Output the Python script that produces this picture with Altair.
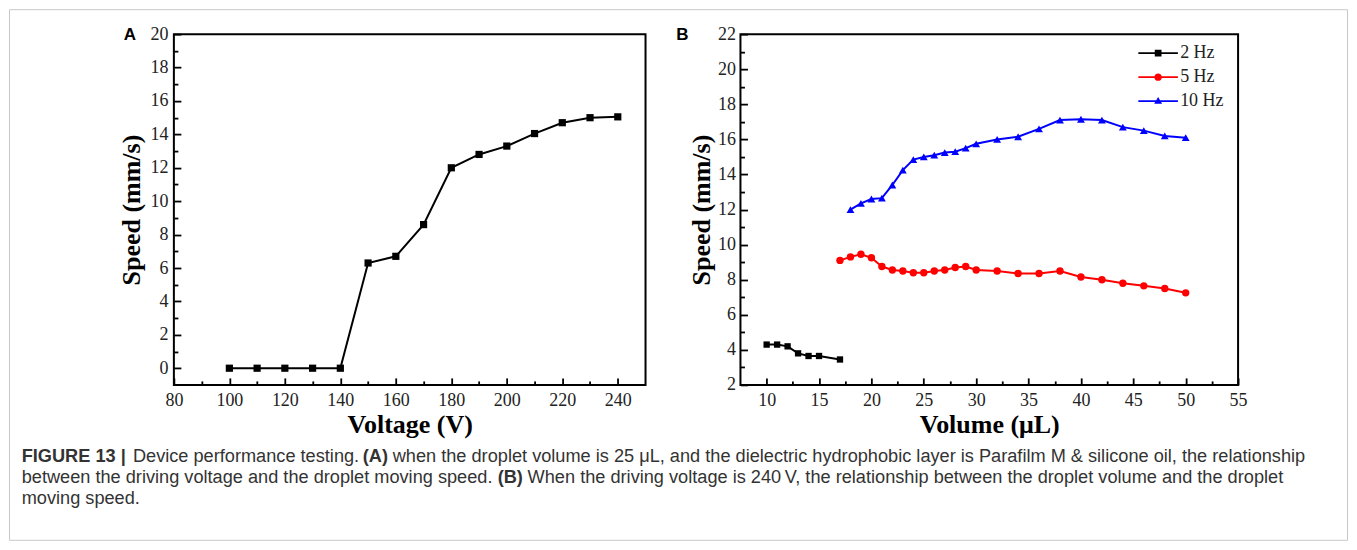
import altair as alt
import pandas as pd

# ---------------- data ----------------
voltage = [100, 110, 120, 130, 140, 150, 160, 170, 180, 190, 200, 210, 220, 230, 240]
speed_voltage = [0, 0, 0, 0, 0, 6.3, 6.7, 8.6, 12.0, 12.8, 13.3, 14.05, 14.7, 15.0, 15.05]

volume_2hz = [10, 11, 12, 13, 14, 15, 17]
speed_2hz = [4.3, 4.3, 4.2, 3.8, 3.65, 3.65, 3.45]

volume_5hz = [17, 18, 19, 20, 21, 22, 23, 24, 25, 26, 27, 28, 29, 30, 32, 34, 36, 38, 40, 42, 44, 46, 48, 50]
speed_5hz = [9.1, 9.3, 9.45, 9.25, 8.75, 8.55, 8.5, 8.4, 8.4, 8.5, 8.55, 8.7, 8.75, 8.55, 8.5, 8.35,
             8.35, 8.5, 8.15, 8.0, 7.8, 7.65, 7.5, 7.25]

volume_10hz = [18, 19, 20, 21, 22, 23, 24, 25, 26, 27, 28, 29, 30, 32, 34, 36, 38, 40, 42, 44, 46, 48, 50]
speed_10hz = [12.0, 12.35, 12.6, 12.65, 13.4, 14.25, 14.85, 15.0, 15.1, 15.25, 15.3, 15.5, 15.75, 16.0,
              16.15, 16.6, 17.1, 17.15, 17.1, 16.7, 16.5, 16.2, 16.1]

series_names = ["2 Hz", "5 Hz", "10 Hz"]
series_colors = ["#000000", "#ff0000", "#0000ff"]
series_shapes = ["square", "circle", "triangle-up"]

a_x_major = [80, 100, 120, 140, 160, 180, 200, 220, 240]
a_x_minor = [90, 110, 130, 150, 170, 190, 210, 230]
a_y_major = [0, 2, 4, 6, 8, 10, 12, 14, 16, 18, 20]
a_y_minor = [1, 3, 5, 7, 9, 11, 13, 15, 17, 19]
b_x_major = [10, 15, 20, 25, 30, 35, 40, 45, 50, 55]
b_x_minor = [12.5, 17.5, 22.5, 27.5, 32.5, 37.5, 42.5, 47.5, 52.5]
b_y_major = [2, 4, 6, 8, 10, 12, 14, 16, 18, 20, 22]
b_y_minor = [3, 5, 7, 9, 11, 13, 15, 17, 19, 21]

caption_l1_a = "FIGURE 13 |"
caption_l1_b = "Device performance testing."
caption_l1_c = "(A)"
caption_l1_d = "when the droplet volume is 25 \u03bcL, and the dielectric hydrophobic layer is Parafilm M & silicone oil, the relationship"
caption_l2_a = "between the driving voltage and the droplet moving speed."
caption_l2_b = "(B)"
caption_l2_c = "When the driving voltage is 240\u2009V, the relationship between the droplet volume and the droplet"
caption_l3 = "moving speed."

# ---------------- styles ----------------
SERIF = "Liberation Serif"
SANS = "Liberation Sans"
CAP_SIZE = 18.2
CAP_COLOR = "#333333"

legend_paths = [
    "M-1.65,-0.08H1.65V0.08H-1.65Z M-0.28,-0.28H0.28V0.28H-0.28Z",
    "M-1.65,-0.08H1.65V0.08H-1.65Z M-0.31,0A0.31,0.31,0,1,1,0.31,0A0.31,0.31,0,1,1,-0.31,0Z",
    "M-1.65,-0.08H1.65V0.08H-1.65Z M0,-0.34L0.33,0.22H-0.33Z",
]


def major_axis(orient, values, title, title_pad, label_pad):
    return alt.Axis(orient=orient, values=values, title=title, offset=-7, tickSize=7,
                    domain=False, grid=False, labelPadding=label_pad, titlePadding=title_pad,
                    labelFlush=False, labelOverlap=False)


def minor_axis(orient, values):
    return alt.Axis(orient=orient, values=values, title=None, labels=False, offset=-4,
                    tickSize=4, domain=False, grid=False)


empty = alt.Data(values=[{"k": 0}])


def text_at(txt, x, y, font, size, bold, color, align="left"):
    return alt.Chart(empty).mark_text(text=txt, font=font, fontSize=size,
                                      fontWeight="bold" if bold else "normal",
                                      align=align, baseline="middle", color=color).encode(
        x=alt.value(x), y=alt.value(y))


# ---------------- caption + outer border (drawn from panel A's origin) ----------------
L1, L2, L3 = 423, 444, 465
caption_layers = [
    alt.Chart(empty).mark_rect(filled=False, color="#c8c8c8", strokeWidth=1).encode(
        x=alt.value(-164.5), x2=alt.value(1174.5), y=alt.value(-24.5), y2=alt.value(506.5)),
    text_at(caption_l1_a, -152.3, L1, SANS, CAP_SIZE, True, CAP_COLOR),
    text_at(caption_l1_b, -41, L1, SANS, CAP_SIZE, False, CAP_COLOR),
    text_at(caption_l1_c, 189, L1, SANS, CAP_SIZE, True, CAP_COLOR),
    text_at(caption_l1_d, 219, L1, SANS, CAP_SIZE, False, CAP_COLOR),
    text_at(caption_l2_a, -152.3, L2, SANS, CAP_SIZE, False, CAP_COLOR),
    text_at(caption_l2_b, 324, L2, SANS, CAP_SIZE, True, CAP_COLOR),
    text_at(caption_l2_c, 354, L2, SANS, CAP_SIZE, False, CAP_COLOR),
    text_at(caption_l3, -152.3, L3, SANS, CAP_SIZE, False, CAP_COLOR),
]

# ---------------- panel A ----------------
df_a = pd.DataFrame({"Voltage": voltage, "Speed": speed_voltage})
scale_ax = alt.Scale(domain=[80, 250], nice=False, zero=False)
scale_ay = alt.Scale(domain=[-1, 20], nice=False, zero=False)
ax = alt.X("Voltage:Q", scale=scale_ax, axis=major_axis("bottom", a_x_major, "Voltage (V)", 2, 7))
ay = alt.Y("Speed:Q", scale=scale_ay, axis=major_axis("left", a_y_major, "Speed (mm/s)", 5, 6))

line_a = alt.Chart(df_a).mark_line(color="black", strokeWidth=2).encode(x=ax, y=ay)
pts_a = alt.Chart(df_a).mark_point(shape="square", filled=True, size=52, color="black",
                                   opacity=1).encode(x=ax, y=ay)
minor_a = alt.Chart(df_a).mark_point(opacity=0).encode(
    x=alt.X("Voltage:Q", scale=scale_ax, axis=minor_axis("bottom", a_x_minor)),
    y=alt.Y("Speed:Q", scale=scale_ay, axis=minor_axis("left", a_y_minor)))

chart_a = alt.layer(
    alt.layer(line_a, pts_a, text_at("A", -44, 1, SANS, 17, True, "black", "center"),
              *caption_layers),
    minor_a,
).resolve_axis(x="independent", y="independent").properties(width=472, height=351)

# ---------------- panel B ----------------
scale_bx = alt.Scale(domain=[7.5, 55], nice=False, zero=False)
scale_by = alt.Scale(domain=[2, 22], nice=False, zero=False)
bx = alt.X("Volume:Q", scale=scale_bx, axis=major_axis("bottom", b_x_major, "Volume (\u03bcL)", 2, 7))
by = alt.Y("Speed:Q", scale=scale_by, axis=major_axis("left", b_y_major, "Speed (mm/s)", 3, 5))

frames_b = [
    pd.DataFrame({"Volume": volume_2hz, "Speed": speed_2hz}),
    pd.DataFrame({"Volume": volume_5hz, "Speed": speed_5hz}),
    pd.DataFrame({"Volume": volume_10hz, "Speed": speed_10hz}),
]
sizes_b = [40, 55, 62]

layers_b = []
for df, col, shp, sz in zip(frames_b, series_colors, series_shapes, sizes_b):
    layers_b.append(alt.Chart(df).mark_line(color=col, strokeWidth=2).encode(x=bx, y=by))
    layers_b.append(alt.Chart(df).mark_point(shape=shp, filled=True, size=sz, color=col,
                                             opacity=1).encode(x=bx, y=by))

leg = alt.Legend(orient="none", legendX=406, legendY=7, title=None, symbolSize=576,
                 labelFont=SERIF, labelFontSize=18, labelColor="#222222", labelOffset=10,
                 rowPadding=3, padding=0, symbolStrokeWidth=0)
legend_layer = alt.Chart(frames_b[0]).mark_point(filled=True, opacity=1).encode(
    shape=alt.Shape("leg:N", scale=alt.Scale(domain=series_names, range=legend_paths), legend=leg),
    color=alt.Color("leg:N", scale=alt.Scale(domain=series_names, range=series_colors), legend=leg),
).transform_filter("false")

minor_b = alt.Chart(frames_b[2]).mark_point(opacity=0).encode(
    x=alt.X("Volume:Q", scale=scale_bx, axis=minor_axis("bottom", b_x_minor)),
    y=alt.Y("Speed:Q", scale=scale_by, axis=minor_axis("left", b_y_minor)))

chart_b = alt.layer(
    alt.layer(*layers_b, legend_layer, text_at("B", -58, 1, SANS, 17, True, "black", "center")),
    minor_b,
).resolve_axis(x="independent", y="independent").properties(width=498, height=351)

chart = alt.hconcat(chart_a, chart_b, spacing=95, bounds="flush").resolve_legend(
    color="independent", shape="independent"
).properties(padding=0, background="white").configure_view(
    stroke="black", strokeWidth=2
).configure_axis(
    labelFont=SERIF, labelFontSize=18, labelColor="#222222",
    titleFont=SERIF, titleFontSize=26, titleFontWeight="bold", titleColor="black",
    tickColor="black", tickWidth=1.8,
)

chart.save("out.html", embed_options={"renderer": "svg", "actions": False})
